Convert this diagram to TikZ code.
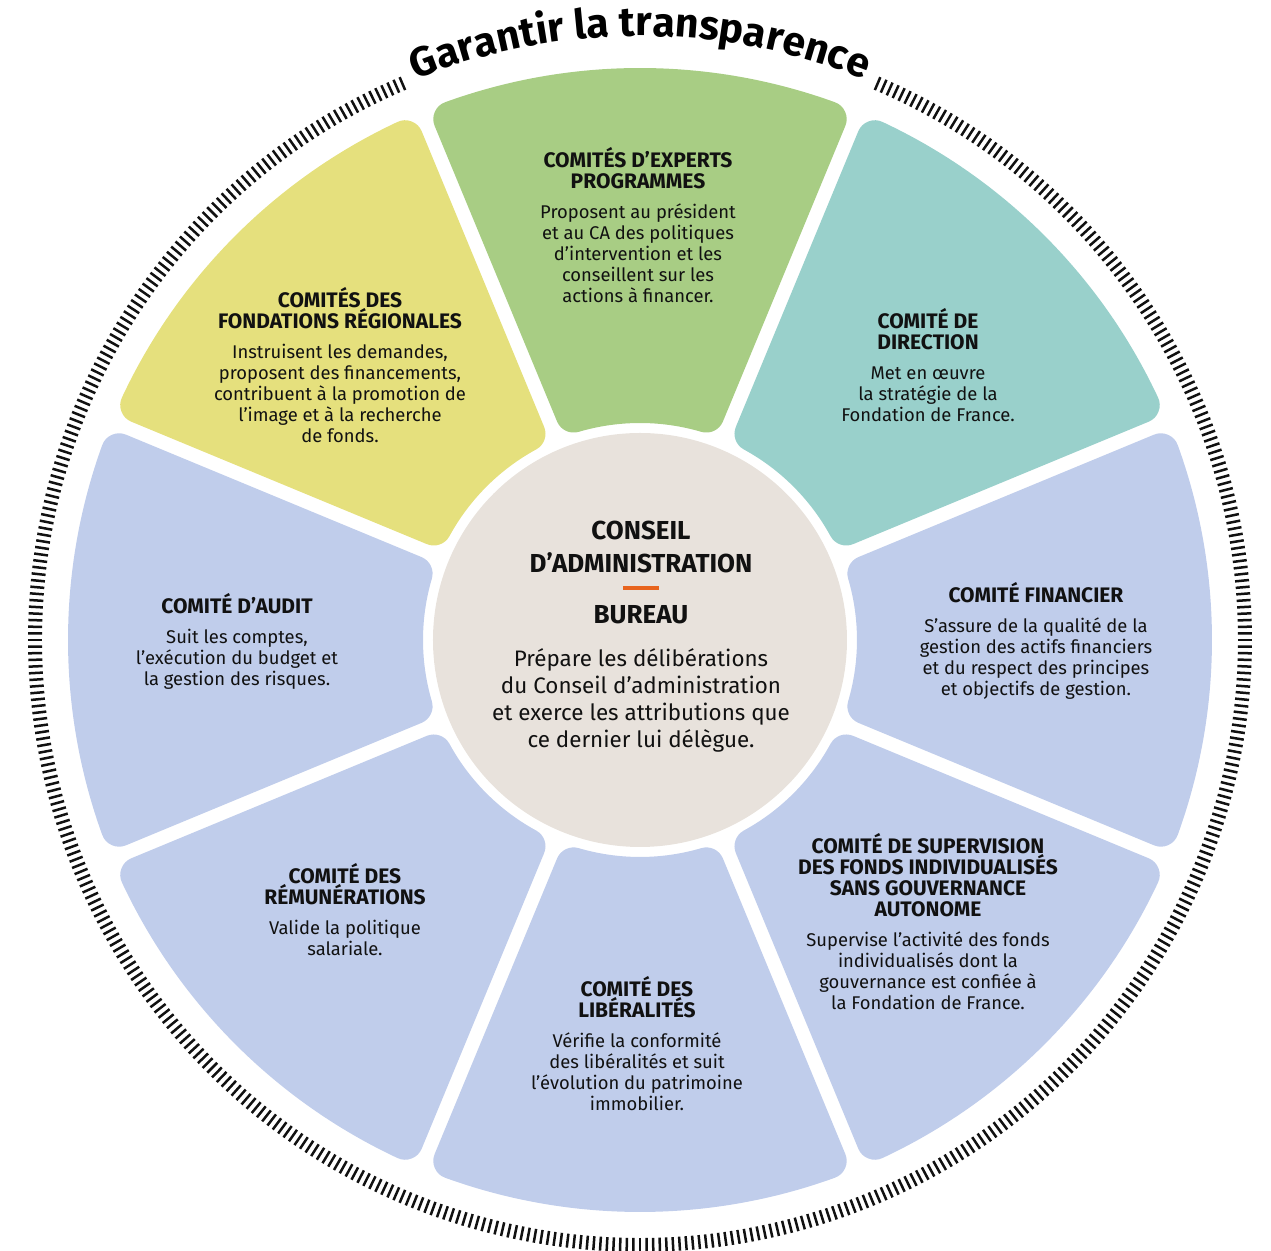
\documentclass[tikz,border=0pt]{standalone}
\usepackage{fontspec}
\setmainfont{Fira Sans}
\newfontfamily\titrefont{Fira Sans}
\usetikzlibrary{decorations.text}

\definecolor{ink}{HTML}{111111}
\definecolor{vert}{HTML}{A8CD84}
\definecolor{jaune}{HTML}{E5E07D}
\definecolor{turquoise}{HTML}{99D0CB}
\definecolor{bleu}{HTML}{C0CDEB}
\definecolor{beige}{HTML}{E8E2DC}
\definecolor{orangefdf}{HTML}{E8641E}

\tikzset{
  petalefill/.style={fill=#1, draw=#1, line width=18pt, line join=round},
  comite/.style={align=center, text=ink, font=\fontsize{9.2}{10.5}\selectfont},
  hachure/.style={line width=1.25pt, draw=ink},
}

% one rounded petal: #1 centre angle, #2 colour
\newcommand{\petale}[2]{%
  \filldraw[petalefill=#2] (#1-16.393:235) -- (#1-19.913:554)
    arc[start angle=#1-19.913, end angle=#1+19.913, radius=554]
    -- (#1+16.393:235)
    arc[start angle=#1+16.393, end angle=#1-16.393, radius=235] -- cycle;}
\newcommand{\tit}[1]{{\bfseries\fontsize{10.5}{10.5}\selectfont #1}}

\begin{document}
\begin{tikzpicture}[x=0.5pt, y=0.5pt]
    \useasboundingbox (-640,-611) rectangle (631,640);

    % ring of little ticks, open at the top for the title
    \foreach \i in {1,...,503}
        \draw[hachure] ({112.5+0.625*\i}:598) -- ({112.5+0.625*\i}:612);

    % title along the ring
    \path[decorate, decoration={text along path, text align=center,
        text={|\titrefont\bfseries\fontsize{20.5}{20.5}\selectfont|Garantir la transparence}}]
        (118:604) arc[start angle=118, end angle=62, radius=604];

    % the eight petals
    \petale{90}{vert}
    \petale{135}{jaune}
    \petale{45}{turquoise}
    \petale{0}{bleu}
    \petale{-45}{bleu}
    \petale{-90}{bleu}
    \petale{-135}{bleu}
    \petale{180}{bleu}

    % the centre
    \node[circle, fill=beige, minimum size=207pt, inner sep=0pt] (ca) at (0,0) {};
    \node[align=center, text=ink, font=\bfseries\fontsize{13}{16.5}\selectfont] (conseil) at (1,93)
        {CONSEIL\\D’ADMINISTRATION};
    \draw[orangefdf, line width=2pt] (-17,52) -- (19,52); % orange bar
    \node[text=ink, font=\bfseries\fontsize{13}{13}\selectfont] (bureau) at (1,25) {BUREAU};
    \node[align=center, text=ink, font=\fontsize{11.2}{13.5}\selectfont] (prepare) at (1,-60)
        {Prépare les délibérations\\du Conseil d’administration\\et exerce les attributions que\\ce dernier lui délègue.};

    % texts of the committees
    \node[comite] (experts) at (-2,415)
        {\tit{COMITÉS D’EXPERTS}\\\tit{PROGRAMMES}\\[4.5pt]Proposent au président\\et au CA des politiques\\d’intervention et les\\conseillent sur les\\actions à financer.};
    \node[comite] (regions) at (-300,275)
        {\tit{COMITÉS DES}\\\tit{FONDATIONS RÉGIONALES}\\[4.5pt]Instruisent les demandes,\\proposent des financements,\\contribuent à la promotion de\\l’image et à la recherche\\de fonds.};
    \node[comite] (direction) at (288,275)
        {\tit{COMITÉ DE}\\\tit{DIRECTION}\\[4.5pt]Met en œuvre\\la stratégie de la\\Fondation de France.};
    \node[comite] (financier) at (396,-1)
        {\tit{COMITÉ FINANCIER}\\[4.5pt]S’assure de la qualité de la\\gestion des actifs financiers\\et du respect des principes\\et objectifs de gestion.};
    \node[comite] (supervision) at (288,-282)
        {\tit{COMITÉ DE SUPERVISION}\\\tit{DES FONDS INDIVIDUALISÉS}\\\tit{SANS GOUVERNANCE}\\\tit{AUTONOME}\\[4.5pt]Supervise l’activité des fonds\\individualisés dont la\\gouvernance est confiée à\\la Fondation de France.};
    \node[comite] (liberalites) at (-3,-404)
        {\tit{COMITÉ DES}\\\tit{LIBÉRALITÉS}\\[4.5pt]Vérifie la conformité\\des libéralités et suit\\l’évolution du patrimoine\\immobilier.};
    \node[comite] (remunerations) at (-295,-270)
        {\tit{COMITÉ DES}\\\tit{RÉMUNÉRATIONS}\\[4.5pt]Valide la politique\\salariale.};
    \node[comite] (audit) at (-403,-1)
        {\tit{COMITÉ D’AUDIT}\\[4.5pt]Suit les comptes,\\l’exécution du budget et\\la gestion des risques.};
\end{tikzpicture}
\end{document}
